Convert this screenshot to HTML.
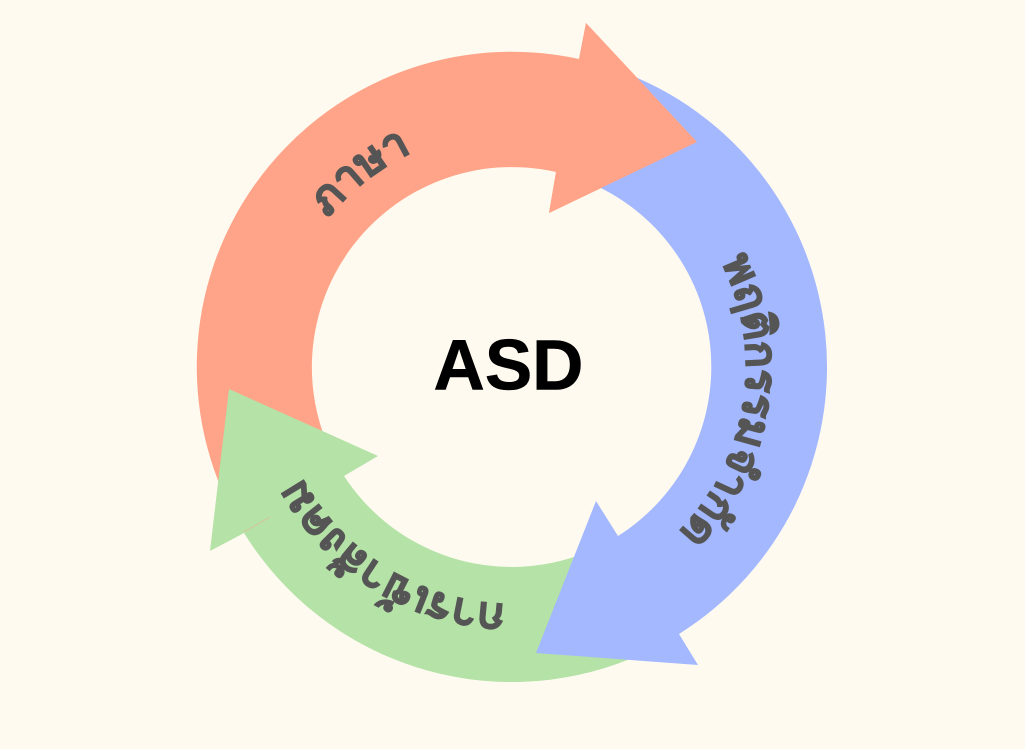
<!DOCTYPE html>
<html><head><meta charset="utf-8"><style>
html,body{margin:0;padding:0;background:#FFFAF0;width:1025px;height:749px;overflow:hidden}
svg{display:block}
.t{font-family:"Garuda","Umpush",sans-serif;font-weight:bold;font-size:44px;fill:#555;stroke:#555;stroke-width:1.3px}
</style></head><body>
<svg width="1025" height="749" viewBox="0 0 1025 749" xmlns="http://www.w3.org/2000/svg">
<rect width="1025" height="749" fill="#FFFAF0"/>
<defs>
<path id="a" d="M325.2 512.9A237 237 0 0 1 698.8 221.1"/>
<path id="b" d="M548.8 134.9A235 235 0 0 1 475.2 599.1"/>
<path id="c" d="M715.5 494.2A240 240 0 0 1 308.5 239.8"/>
</defs>
<path fill="#FFA488" d="M243 531A315 315 0 0 1 579 59L586 23L697 142L549 213L556 172A200 200 0 0 0 341 471Z"/>
<path fill="#B4E2A7" d="M630 659A315 315 0 0 1 244 533L210 551L229 389L378 456L344 476A200 200 0 0 0 585 553Z"/>
<path fill="#A3B8FF" d="M620 71A315 315 0 0 1 679 634L698 665L536 653L596 501L618 536A200 200 0 0 0 580 179Z"/>
<path fill="#FFA488" d="M579 59L586 23L697 142L549 213L556 172Z"/>
<line x1="244" y1="532" x2="270" y2="517" stroke="#FFA488" stroke-width="1" opacity=".5"/>
<text class="t" text-anchor="middle"><textPath href="#a" startOffset="50%">ภาษา</textPath></text>
<text class="t" text-anchor="middle"><textPath href="#b" startOffset="50%">พฤติกรรมจำกัด</textPath></text>
<text class="t" text-anchor="middle"><textPath href="#c" startOffset="50%">การเข้าสังคม</textPath></text>
<text x="508.500" y="389.500" text-anchor="middle" font-family="Liberation Sans, sans-serif" font-weight="bold" font-size="71" fill="#000" stroke="#000" stroke-width=".6">ASD</text>
</svg>
</body></html>
